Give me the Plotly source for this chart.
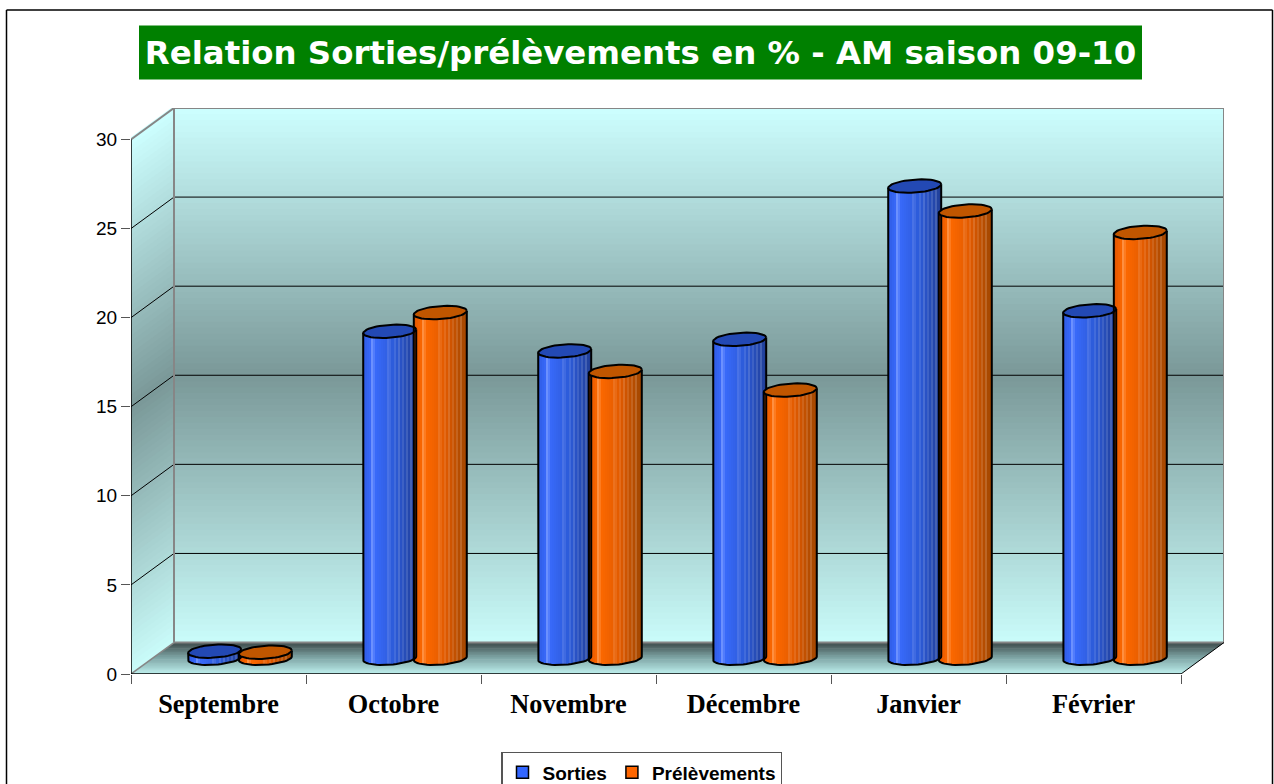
import math
import plotly.graph_objects as go

categories = ["Septembre", "Octobre", "Novembre", "Décembre", "Janvier", "Février"]
sorties = [0.4, 18.35, 17.25, 17.9, 26.5, 19.5]
prelevements = [0.34, 19.4, 16.1, 15.05, 25.1, 23.9]
y_ticks = [0, 5, 10, 15, 20, 25, 30]
title_text = "Relation Sorties/prélèvements en % - AM saison 09-10"

W, H = 1274, 784
L, R, T, B = 131, 1224, 107.5, 674
PX_X = 175.0
PX_Y = (B - 139) / 30.0
DX = (R - 1181) / PX_X
DY = 31.5 / PX_Y
XMAX = 6 + DX
YMAX = 30 + DY
A = 26.5 / PX_X
EB = 6.5 / PX_Y
TILT = 1.8 / PX_Y
GAP = 25.3 / PX_X
BASE = DY / 2
N = 26
STREAKS = {4: 1.25, 5: 1.12, 12: 1.12, 13: 1.08, 15: 1.1, 17: 1.14, 19: 1.1, 21: 1.12, 23: 1.15}


def mix(c1, c2, t):
    return tuple(c1[i] + (c2[i] - c1[i]) * t for i in range(3))


def css(c):
    return "rgb(%d,%d,%d)" % tuple(max(0, min(255, round(v))) for v in c)


def ramp(stops, t):
    for (t0, c0), (t1, c1) in zip(stops, stops[1:]):
        if t <= t1:
            return mix(c0, c1, (t - t0) / (t1 - t0))
    return stops[-1][1]


def wall_color(v):
    # v is the height on the wall, 0 at the floor and 30 at the top
    return css(ramp([(0, (202, 252, 250)), (15, (122, 152, 152)), (30, (205, 255, 255))], v))


fig = go.Figure()
shapes = []
# Outer frame (no bottom edge) and title banner
for x0, y0, x1, y1 in [(6.5, 784, 6.5, 9.5), (6.5, 9.5, 1272.5, 9.5), (1272.5, 9.5, 1272.5, 784)]:
    shapes.append(dict(type="line", xref="paper", yref="paper",
                       x0=(x0 - L) / (R - L), x1=(x1 - L) / (R - L),
                       y0=(B - y0) / (B - T), y1=(B - y1) / (B - T),
                       line=dict(color="black", width=1.5), layer="below"))
shapes.append(dict(type="rect", xref="paper", yref="paper",
                   x0=(139 - L) / (R - L), x1=(1142 - L) / (R - L),
                   y0=(B - 79) / (B - T), y1=(B - 25) / (B - T),
                   fillcolor="#008000", line=dict(width=0), layer="below"))


def poly(pts, color):
    path = "M" + " L".join("%.5f,%.5f" % p for p in pts) + " Z"
    shapes.append(dict(type="path", xref="x", yref="y", path=path, fillcolor=color,
                       line=dict(width=0), layer="below"))


def seg(x0, y0, x1, y1, color, width):
    shapes.append(dict(type="line", xref="x", yref="y", x0=x0, y0=y0, x1=x1, y1=y1,
                       line=dict(color=color, width=width), layer="below"))


# Back and side walls painted in thin bands
bands = 90
over = 0.12
for k in range(bands):
    v0, v1 = 30.0 * k / bands, 30.0 * (k + 1) / bands
    col = wall_color((v0 + v1) / 2)
    poly([(DX, v0 + DY), (XMAX, v0 + DY), (XMAX, v1 + DY + over), (DX, v1 + DY + over)], col)
    poly([(0, v0), (DX, v0 + DY), (DX, v1 + DY + over), (0, v1 + over)], col)
# Floor
fb = 20
for k in range(fb):
    f0, f1 = k / fb, (k + 1) / fb
    col = css(ramp([(0, (190, 240, 238)), (0.55, (122, 160, 160)), (1, (60, 72, 72))], (f0 + f1) / 2))
    f2 = min(1, f1 + 0.02)
    poly([(DX * f0, DY * f0), (6 + DX * f0, DY * f0), (6 + DX * f2, DY * f2), (DX * f2, DY * f2)], col)
# Grid lines
for v in y_ticks[1:-1]:
    seg(0, v, DX, v + DY, "black", 1)
    seg(DX, v + DY, XMAX, v + DY, "black", 1)
# Frame of the box
GR = "#868686"
seg(DX, DY, DX, YMAX, GR, 2)
seg(DX, YMAX, XMAX, YMAX, GR, 2)
seg(XMAX, YMAX, XMAX, DY, GR, 2)
seg(DX, DY, XMAX, DY, GR, 2)
seg(0, 30, DX, YMAX, GR, 2)
seg(0, 0, DX, DY, GR, 1.5)
seg(6, 0, XMAX, DY, "black", 1)
seg(0, 0, 0, 30, "black", 1.5)
seg(0, 0, 6, 0, "black", 1.5)


def add_series(name, values, shift, stops, cap_color, swatch):
    centers = [i + 0.5 + DX / 2 + shift for i in range(len(values))]
    tops = [BASE + v for v in values]
    fig.add_trace(go.Bar(name="<b>%s</b>" % name, x=centers, y=values, base=[BASE] * len(values),
                         width=A * 1.7,
                         marker=dict(color=swatch, line=dict(color="black", width=1.5)),
                         hoverinfo="skip"))
    for s in range(N):
        u = -1 + (2 * s + 1) / N
        color = ramp(stops, (u + 1) / 2)
        k = STREAKS.get(s, 1.0)
        color = mix(color, (255, 255, 255), (k - 1) * 1.0)
        low = BASE - EB * math.sqrt(max(0, 1 - u * u)) + TILT * u
        hi = [t + TILT * u for t in tops]
        fig.add_trace(go.Bar(x=[c + u * A for c in centers], y=[h - low for h in hi],
                             base=[low] * len(values), width=A * 2 / N * 1.25,
                             marker=dict(color=css(color), line=dict(width=0)),
                             showlegend=False, hoverinfo="skip"))
    ox, oy, cx, cy = [], [], [], []
    for c, t in zip(centers, tops):
        for j in range(49):
            a = 2 * math.pi * j / 48
            cx.append(c + A * math.cos(a))
            cy.append(t + EB * math.sin(a) + TILT * math.cos(a))
        cx.append(None)
        cy.append(None)
        ox.append(c - A)
        oy.append(t - TILT)
        for j in range(25):
            ox.append(c - A * math.cos(math.pi * j / 24))
            oy.append(BASE - EB * math.sin(math.pi * j / 24) - TILT * math.cos(math.pi * j / 24))
        ox.append(c + A)
        oy.append(t + TILT)
        ox.append(None)
        oy.append(None)
    fig.add_trace(go.Scatter(x=ox, y=oy, mode="lines", line=dict(color="black", width=2),
                             showlegend=False, hoverinfo="skip"))
    fig.add_trace(go.Scatter(x=cx, y=cy, mode="lines", fill="toself", fillcolor=cap_color,
                             line=dict(color="black", width=2),
                             showlegend=False, hoverinfo="skip"))


blue = [(0, (46, 90, 225)), (0.18, (58, 108, 255)), (0.6, (44, 90, 215)), (1, (32, 62, 150))]
orange = [(0, (225, 85, 0)), (0.18, (255, 106, 0)), (0.6, (225, 90, 0)), (1, (160, 70, 0))]
add_series("Sorties", sorties, -GAP, blue, "#2349B4", "#3366FF")
add_series("Prélèvements", prelevements, GAP, orange, "#C05600", "#FF6600")

fig.update_layout(
    width=W, height=H, autosize=False,
    margin=dict(l=L, r=W - R, t=T, b=H - B, pad=0, autoexpand=False),
    paper_bgcolor="white", plot_bgcolor="white",
    barmode="overlay", bargap=0,
    shapes=shapes,
    showlegend=True,
    title=dict(text="<b>" + title_text + "</b>", x=640.5 / W, xanchor="center",
               y=1 - 52.5 / H, yanchor="middle",
               font=dict(family="DejaVu Sans", size=32.4, color="white")),
    legend=dict(orientation="h", x=(501 - L) / (R - L), xanchor="left",
                y=(B - 752) / (B - T), yanchor="top",
                bgcolor="white", bordercolor="#555555", borderwidth=1.5,
                font=dict(family="Liberation Sans", size=19, color="black"),
                itemwidth=30, itemclick=False, itemdoubleclick=False),
    xaxis=dict(range=[0, XMAX], tickmode="array", tickvals=[i + 0.5 for i in range(6)],
               ticktext=["<b>%s</b>" % c for c in categories], ticks="", showgrid=False,
               zeroline=False, showline=False, ticklabelstandoff=12,
               tickfont=dict(family="Liberation Serif", size=26.3, color="black"),
               minor=dict(tickmode="array", tickvals=list(range(7)), ticks="outside",
                          ticklen=9, tickcolor="#555555", tickwidth=1.2, showgrid=False)),
    yaxis=dict(range=[0, YMAX], tickmode="array", tickvals=y_ticks, ticks="outside", ticklen=9,
               tickcolor="#555555", tickwidth=1.2, showgrid=False, zeroline=False, showline=False,
               tickfont=dict(family="Liberation Sans", size=19, color="black")),
)

fig.write_html("out.html", include_plotlyjs=True, config={"displayModeBar": False},
               post_script="document.body.style.margin='0';document.documentElement.style.overflow='hidden';")
